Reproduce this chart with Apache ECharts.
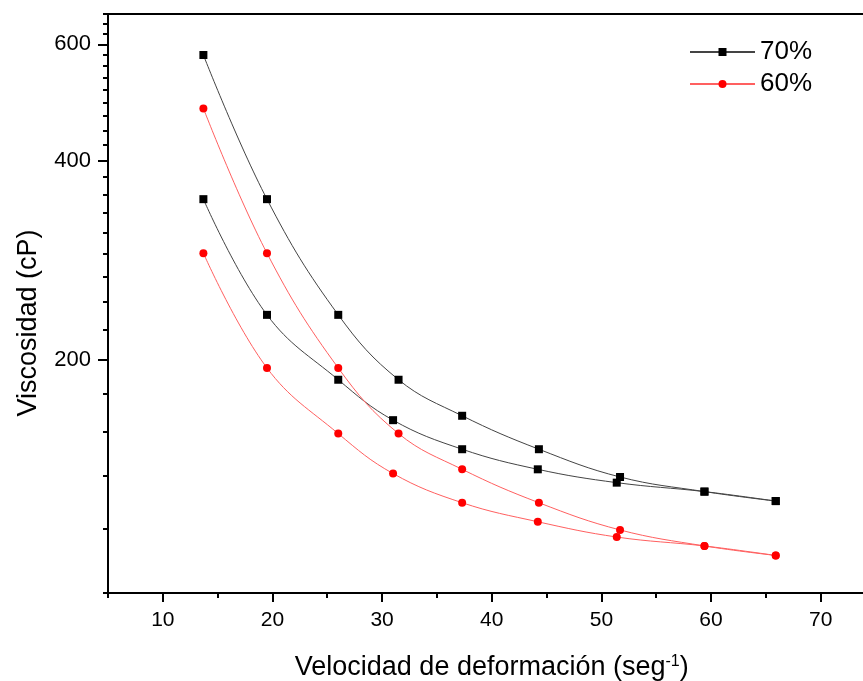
<!DOCTYPE html>
<html>
<head>
<meta charset="utf-8">
<script src="https://cdn.jsdelivr.net/npm/echarts@6/dist/echarts.min.js"></script>
<style>
  html, body { margin: 0; padding: 0; background: #fff; }
  #chart { width: 863px; height: 681px; }
</style>
</head>
<body>
<div id="chart"></div>
<script>
  // shear rates (seg^-1) for the two runs of each sample
  var rateA = [13.7, 19.5, 26.0, 31.5, 37.3, 44.3, 51.7, 59.4, 65.9];
  var rateB = [13.7, 19.5, 26.0, 31.0, 37.3, 44.2, 51.4, 59.4, 65.9];

  // viscosity (cP)
  var visc70a = [578, 350, 234, 186.7, 164.7, 146.6, 133.1, 126.5, 122.4];
  var visc70b = [350, 234, 186.7, 162.2, 146.6, 136.7, 130.5, 126.5, 122.4];
  var visc60a = [480, 290, 194.5, 154.8, 136.7, 121.7, 110.7, 104.7, 101.3];
  var visc60b = [290, 194.5, 154.8, 134.7, 121.7, 113.9, 108.0, 104.7, 101.3];

  // axis ticks
  var xMajor = [10, 20, 30, 40, 50, 60, 70];
  var xMinor = [5, 15, 25, 35, 45, 55, 65, 75];
  var yMajor = [200, 400, 600];
  var yStep = 200 / 9;   // 8 minor ticks per major step
  var yMin = 4 * yStep, yMax = 30 * yStep;
  var xMin = 5, xMax = 75;

  var yMinor = [];
  for (var k = 4; k <= 30; k++) {
    if (k % 9 !== 0) yMinor.push(k * yStep);
  }

  function pairs(xs, ys) {
    return xs.map(function(x, i) { return [x, ys[i]]; });
  }

  var font = 'Liberation Sans, Arial, sans-serif';
  var axisLine = { show: true, onZero: false, lineStyle: { color: '#000', width: 2 } };
  var MINOR = 5;

  function makeSeries(name, xs, ys, symbol, size, color, lineColor) {
    return {
      name: name,
      type: 'line',
      data: pairs(xs, ys),
      smooth: 0.4,
      symbol: symbol,
      symbolSize: size,
      showSymbol: true,
      itemStyle: { color: color },
      lineStyle: { color: lineColor, width: 1 }
    };
  }

  var chart = echarts.init(document.getElementById('chart'));
  chart.setOption({
    animation: false,
    backgroundColor: '#fff',
    textStyle: { fontFamily: font },
    grid: {
      left: 108, right: -12.5, top: 14, bottom: 88,
      show: true, borderColor: '#000', borderWidth: 2,
      outerBoundsMode: 'none'
    },
    graphic: [{
      // y axis title
      id: 'ytitle',
      type: 'text', x: 29, y: 323, rotation: Math.PI / 2,
      style: {
        text: 'Viscosidad (cP)', fontSize: 27, fontFamily: font, fill: '#000',
        align: 'center', verticalAlign: 'middle'
      }
    }],
    legend: {
      orient: 'vertical',
      left: 684, top: 34,
      itemWidth: 65, itemHeight: 10, itemGap: 6,
      textStyle: { fontSize: 26, color: '#000', fontFamily: font },
      data: ['70%', '60%']
    },
    xAxis: {
      type: 'value', min: xMin, max: xMax, position: 'bottom',
      name: 'Velocidad de deformación (seg{sup|-1})',
      nameLocation: 'middle', nameGap: 61,
      nameTextStyle: {
        fontSize: 27, color: '#000', fontFamily: font,
        rich: { sup: { fontSize: 16, verticalAlign: 'top', lineHeight: 16, fontFamily: font, color: '#000' } }
      },
      axisLine: axisLine,
      axisTick: { customValues: xMajor, length: 9, lineStyle: { color: '#000', width: 2 } },
      axisLabel: { customValues: xMajor, fontSize: 21, margin: 17, color: '#000' },
      splitLine: { show: false }
    },
    yAxis: {
      type: 'log', min: yMin, max: yMax, position: 'left',
      axisLine: axisLine,
      axisTick: { customValues: yMajor, length: 10, lineStyle: { color: '#000', width: 2 } },
      axisLabel: { customValues: yMajor, fontSize: 22, margin: 17, color: '#000' },
      splitLine: { show: false }
    },
    series: [
      makeSeries('70%', rateA, visc70a, 'rect', 8, '#000', '#444'),
      makeSeries('70%', rateB, visc70b, 'rect', 8, '#000', '#444'),
      makeSeries('60%', rateA, visc60a, 'circle', 8, '#ff0000', '#ff6060'),
      makeSeries('60%', rateB, visc60b, 'circle', 8, '#ff0000', '#ff6060')
    ]
  });

  // minor ticks: positions come from the chart's own axes
  var axisX = chart.convertToPixel({ xAxisIndex: 0 }, xMin);
  var axisY = chart.convertToPixel({ yAxisIndex: 0 }, yMin);
  var tickStyle = { stroke: '#000', lineWidth: 2 };
  var ticks = [];

  yMinor.forEach(function(v, i) {
    var py = Math.round(chart.convertToPixel({ yAxisIndex: 0 }, v));
    ticks.push({
      id: 'ymin' + i, type: 'line', silent: true,
      shape: { x1: axisX - MINOR, y1: py, x2: axisX, y2: py },
      style: tickStyle
    });
  });
  xMinor.forEach(function(v, i) {
    var px = Math.round(chart.convertToPixel({ xAxisIndex: 0 }, v));
    ticks.push({
      id: 'xmin' + i, type: 'line', silent: true,
      shape: { x1: px, y1: axisY, x2: px, y2: axisY + MINOR },
      style: tickStyle
    });
  });

  chart.setOption({ graphic: ticks });
</script>
</body>
</html>
